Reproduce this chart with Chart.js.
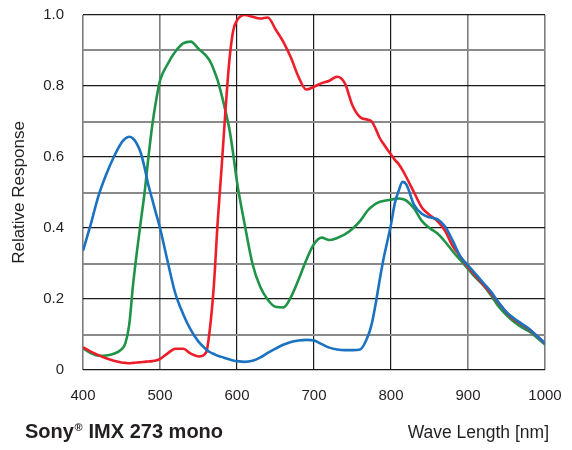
<!DOCTYPE html>
<html>
<head>
<meta charset="utf-8">
<script src="https://cdn.jsdelivr.net/npm/chart.js@4/dist/chart.umd.min.js"></script>
<style>
  html, body { margin: 0; padding: 0; background: #fff; }
  #c { display: block; }
</style>
</head>
<body>
<canvas id="c" width="572" height="450"></canvas>
<script>
// ---- data ----
const wavelengths = [400,410,420,430,440,450,455,460,465,470,475,480,485,490,495,500,510,520,530,540,550,560,565,570,575,580,585,590,595,600,610,620,630,640,650,660,670,680,690,700,710,720,730,740,750,760,770,775,780,785,790,795,800,805,810,815,820,830,840,850,860,870,880,890,900,910,920,930,940,950,960,970,980,990,1000];

const blueResponse = [0.336,0.41,0.49,0.55,0.60,0.64,0.652,0.657,0.652,0.637,0.612,0.57,0.52,0.48,0.44,0.40,0.305,0.215,0.158,0.113,0.08,0.058,0.05,0.045,0.04,0.037,0.033,0.03,0.027,0.025,0.023,0.026,0.035,0.048,0.06,0.071,0.079,0.083,0.085,0.083,0.073,0.063,0.058,0.056,0.056,0.058,0.095,0.13,0.185,0.25,0.31,0.36,0.41,0.47,0.505,0.53,0.522,0.465,0.44,0.43,0.425,0.405,0.365,0.32,0.295,0.27,0.245,0.22,0.19,0.163,0.145,0.13,0.115,0.095,0.075];

const redResponse = [0.064,0.052,0.042,0.033,0.026,0.021,0.02,0.019,0.02,0.021,0.022,0.023,0.024,0.025,0.027,0.031,0.047,0.06,0.06,0.046,0.038,0.05,0.12,0.24,0.42,0.57,0.73,0.87,0.955,0.985,1.0,0.995,0.99,0.993,0.96,0.925,0.88,0.825,0.79,0.798,0.808,0.815,0.826,0.808,0.745,0.712,0.705,0.70,0.68,0.655,0.638,0.622,0.607,0.592,0.58,0.563,0.543,0.50,0.458,0.437,0.42,0.393,0.35,0.32,0.29,0.265,0.24,0.215,0.188,0.162,0.142,0.128,0.113,0.095,0.075];

const greenResponse = [0.061,0.048,0.04,0.041,0.046,0.058,0.075,0.127,0.24,0.333,0.418,0.50,0.60,0.69,0.76,0.815,0.862,0.897,0.92,0.925,0.905,0.885,0.87,0.845,0.815,0.775,0.73,0.68,0.61,0.53,0.41,0.30,0.235,0.198,0.178,0.176,0.205,0.255,0.31,0.355,0.373,0.366,0.372,0.382,0.398,0.42,0.45,0.46,0.468,0.473,0.476,0.478,0.48,0.482,0.483,0.482,0.477,0.455,0.42,0.40,0.385,0.362,0.335,0.31,0.285,0.26,0.238,0.21,0.178,0.155,0.135,0.12,0.108,0.09,0.072];

const xTickLabels = ['400','500','600','700','800','900','1000'];
const yTickLabels = ['0','0.2','0.4','0.6','0.8','1.0'];

const yAxisTitle = 'Relative Response';
const xAxisTitle = 'Wave Length [nm]';
const sensorBrand = 'Sony';
const sensorMark = '\u00AE';
const sensorModel = ' IMX 273 mono';

// ---- build chart ----
function pts(vals) { return wavelengths.map((w, i) => ({ x: w, y: vals[i] })); }

const FONT = "'Liberation Sans', Arial, Helvetica, sans-serif";
const TEXT = '#231f20';

function noEdgePadding(s) {
  s.paddingTop = 0; s.paddingBottom = 0; s.paddingLeft = 0; s.paddingRight = 0;
}

const bottomText = {
  id: 'bottomText',
  afterDraw(chart) {
    const ctx = chart.ctx;
    ctx.save();
    ctx.fillStyle = TEXT;
    ctx.textBaseline = 'alphabetic';
    ctx.textAlign = 'left';
    let x = 25;
    const y = 438;
    ctx.font = 'bold 20px ' + FONT;
    ctx.fillText(sensorBrand, x, y);
    x += ctx.measureText(sensorBrand).width;
    ctx.font = 'bold 11px ' + FONT;
    ctx.fillText(sensorMark, x + 0.5, y - 7);
    x += ctx.measureText(sensorMark).width + 1;
    ctx.font = 'bold 20px ' + FONT;
    ctx.fillText(sensorModel, x, y);
    ctx.font = '17.5px ' + FONT;
    ctx.textAlign = 'right';
    ctx.fillText(xAxisTitle, 549, y);
    ctx.restore();
  }
};

new Chart(document.getElementById('c'), {
  type: 'line',
  data: {
    datasets: [
      { label: 'Blue', data: pts(blueResponse), borderColor: '#1a72c0', borderWidth: 2.6 },
      { label: 'Red', data: pts(redResponse), borderColor: '#ee1d2a', borderWidth: 2.6 },
      { label: 'Green', data: pts(greenResponse), borderColor: '#1f9448', borderWidth: 2.6 }
    ]
  },
  options: {
    responsive: false,
    animation: false,
    events: [],
    devicePixelRatio: 1,
    layout: { padding: { left: 0, right: 27, top: 15, bottom: 50 } },
    elements: {
      point: { radius: 0 },
      line: { cubicInterpolationMode: 'monotone', fill: false }
    },
    plugins: {
      legend: { display: false },
      tooltip: { enabled: false },
      title: { display: false }
    },
    scales: {
      x: {
        type: 'linear',
        min: 400, max: 1000,
        afterFit(s) { s.height = 30; noEdgePadding(s); },
        border: { display: false },
        grid: {
          drawTicks: false,
          color(c) {
            const v = c.tick.value;
            return (v === 400 || v === 500 || v >= 900) ? '#7d7d7d' : '#1a1a1a';
          },
          lineWidth(c) {
            const v = c.tick.value;
            return (v === 400 || v === 500 || v >= 900) ? 1.6 : 1.2;
          }
        },
        ticks: {
          stepSize: 100,
          padding: 17,
          color: TEXT,
          font: { family: FONT, size: 15 },
          maxRotation: 0,
          callback(v) {
            const i = Math.round((v - 400) / 100);
            return xTickLabels[i] !== undefined ? xTickLabels[i] : '';
          }
        }
      },
      y: {
        type: 'linear',
        min: 0, max: 1,
        afterFit(s) { s.width = 83; noEdgePadding(s); },
        border: { display: false },
        grid: {
          drawTicks: false,
          color(c) {
            const k = Math.round(c.tick.value * 10);
            return (k % 2) ? '#8a8a8a' : '#1a1a1a';
          },
          lineWidth(c) {
            const k = Math.round(c.tick.value * 10);
            return (k % 2) ? 2 : 1.2;
          }
        },
        ticks: {
          stepSize: 0.1,
          padding: 19,
          color: TEXT,
          font: { family: FONT, size: 15 },
          autoSkip: false,
          callback(v) {
            const k = Math.round(v * 10);
            if (k % 2) return '';
            return yTickLabels[k / 2];
          }
        },
        title: {
          display: true,
          text: yAxisTitle,
          color: TEXT,
          font: { family: FONT, size: 17 },
          padding: { top: 9, bottom: 0 }
        }
      }
    }
  },
  plugins: [bottomText]
});
</script>
</body>
</html>
